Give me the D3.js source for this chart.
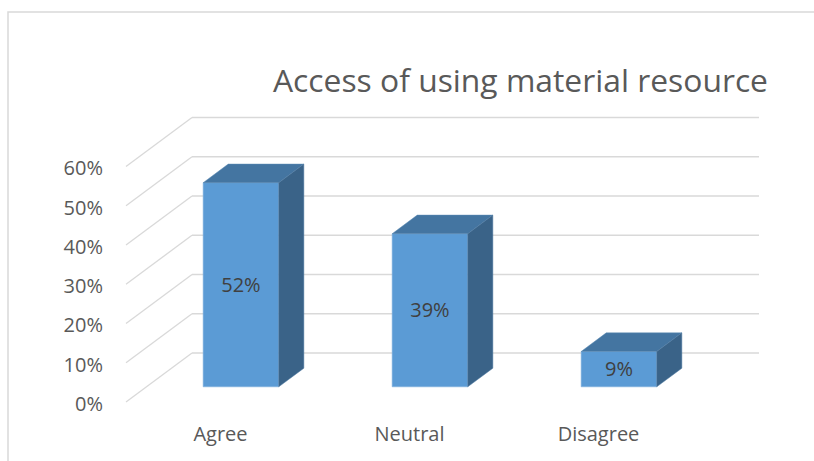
<!DOCTYPE html>
<html>
<head>
<meta charset="utf-8">
<script src="https://cdn.jsdelivr.net/npm/d3@7"></script>
<style>
  html, body { margin: 0; padding: 0; background: #fff; }
  svg { display: block; font-family: "Open Sans", "Noto Sans", sans-serif; }
</style>
</head>
<body>
<svg id="chart" width="814" height="461"></svg>
<script>
// Survey answers and their shares
const categories = ["Agree", "Neutral", "Disagree"];
const shares = [0.52, 0.39, 0.09];
const yTicks = [0, 0.1, 0.2, 0.3, 0.4, 0.5, 0.6];
const title = "Access of using material resource";

const svg = d3.select("#chart");
const W = 814, H = 461;

// Front plane of the 3D plot box
const plotLeft = 126, plotRight = 693;
const floorY = 402, topY = 166.5;
// Full depth of the box (projection offset of the back wall)
const depthDX = 66, depthDY = -49;
// Bars occupy the middle slice of the depth
const zFront = 0.31, zBack = 0.69;

const x = d3.scaleBand()
  .domain(categories)
  .range([plotLeft, plotRight])
  .paddingInner(0.6)
  .paddingOuter(0.3);

const y = d3.scaleLinear()
  .domain([0, 0.6])
  .range([floorY, topY]);

// project a point given on the front plane to depth z (0..1)
const px = (xv, z) => xv + z * depthDX;
const py = (yv, z) => yv + z * depthDY;

const gridColor = "#d9d9d9";

// Outer chart frame (top and left edges)
svg.append("path")
  .attr("d", `M8,${H} L8,12 L${W},12`)
  .attr("fill", "none")
  .attr("stroke", gridColor)
  .attr("stroke-width", 1.5);

// Title
svg.append("text")
  .attr("x", 520.5)
  .attr("y", 92)
  .attr("text-anchor", "middle")
  .attr("font-size", 31)
  .attr("fill", "#595959")
  .attr("textLength", 495)
  .attr("lengthAdjust", "spacingAndGlyphs")
  .text(title);

// Back-wall gridlines
const grid = svg.append("g")
  .attr("stroke", gridColor)
  .attr("stroke-width", 1.3)
  .attr("fill", "none");

grid.selectAll("line.back")
  .data(yTicks)
  .join("line")
  .attr("class", "back")
  .attr("x1", px(plotLeft, 1))
  .attr("x2", px(plotRight, 1))
  .attr("y1", d => py(y(d), 1))
  .attr("y2", d => py(y(d), 1));

// Side-wall gridlines running into depth
grid.selectAll("line.side")
  .data(yTicks)
  .join("line")
  .attr("class", "side")
  .attr("x1", px(plotLeft, 0))
  .attr("x2", px(plotLeft, 1))
  .attr("y1", d => py(y(d), 0))
  .attr("y2", d => py(y(d), 1));

// Y axis labels
const yAxis = d3.axisLeft(y)
  .tickValues(yTicks)
  .tickFormat(d3.format(".0%"))
  .tickSize(0)
  .tickPadding(23);

const yg = svg.append("g")
  .attr("transform", `translate(${plotLeft},0)`)
  .call(yAxis);
yg.select(".domain").remove();
yg.selectAll("text")
  .attr("font-family", "'Open Sans', 'Noto Sans', sans-serif")
  .attr("font-size", 20)
  .attr("fill", "#595959")
  .attr("dy", "0.42em");

// 3D bars
const bars = svg.append("g");
const data = categories.map((c, i) => ({ c, v: shares[i] }));

const faceFront = "#5b9bd5";
const faceTop = "#4475a1";
const faceSide = "#3a6388";

data.forEach(d => {
  const x0 = x(d.c), x1 = x(d.c) + x.bandwidth();
  const yb = y(0), yt = y(d.v);
  const g = bars.append("g");

  // front face
  g.append("path")
    .attr("d", `M${px(x0, zFront)},${py(yb, zFront)}
                L${px(x0, zFront)},${py(yt, zFront)}
                L${px(x1, zFront)},${py(yt, zFront)}
                L${px(x1, zFront)},${py(yb, zFront)}Z`)
    .attr("fill", faceFront)
    .attr("stroke", "#7fb0de")
    .attr("stroke-width", 0.6);

  // top face
  g.append("path")
    .attr("d", `M${px(x0, zFront)},${py(yt, zFront)}
                L${px(x0, zBack)},${py(yt, zBack)}
                L${px(x1, zBack)},${py(yt, zBack)}
                L${px(x1, zFront)},${py(yt, zFront)}Z`)
    .attr("fill", faceTop)
    .attr("stroke", "#5a8ab5")
    .attr("stroke-width", 0.5);

  // right side face
  g.append("path")
    .attr("d", `M${px(x1, zFront)},${py(yt, zFront)}
                L${px(x1, zBack)},${py(yt, zBack)}
                L${px(x1, zBack)},${py(yb, zBack)}
                L${px(x1, zFront)},${py(yb, zFront)}Z`)
    .attr("fill", faceSide)
    .attr("stroke", "#4f7ba3")
    .attr("stroke-width", 0.5);

  // value label centred on the front face
  g.append("text")
    .attr("x", px((x0 + x1) / 2, zFront))
    .attr("y", py((yb + yt) / 2, zFront))
    .attr("dy", "0.36em")
    .attr("text-anchor", "middle")
    .attr("font-size", 20)
    .attr("fill", "#404040")
    .text(d3.format(".0%")(d.v));
});

// Category labels
svg.append("g")
  .selectAll("text")
  .data(categories)
  .join("text")
  .attr("x", d => x(d) + x.bandwidth() / 2)
  .attr("y", 441)
  .attr("text-anchor", "middle")
  .attr("font-size", 20)
  .attr("fill", "#595959")
  .text(d => d);
</script>
</body>
</html>
